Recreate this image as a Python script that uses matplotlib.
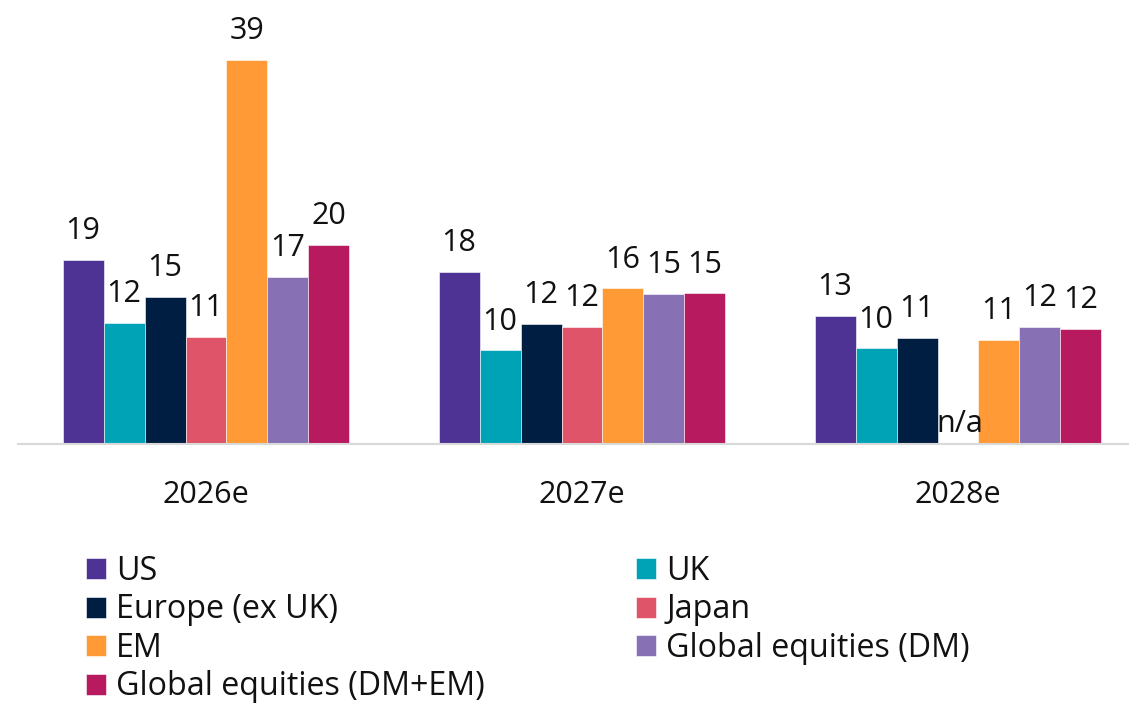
import matplotlib
matplotlib.use("Agg")
import matplotlib.pyplot as plt
import numpy as np

plt.rcParams['font.family'] = ['Open Sans', 'DejaVu Sans']

years = ["2026e", "2027e", "2028e"]
series = ["US", "UK", "Europe (ex UK)", "Japan", "EM",
          "Global equities (DM)", "Global equities (DM+EM)"]
colors = ["#4F3394", "#00A3B5", "#001E42", "#E0546A", "#FF9A36",
          "#8870B5", "#B71A5F"]

us = [18.7, 17.5, 13.0]
uk = [12.3, 9.5, 9.7]
europe = [14.9, 12.2, 10.8]
japan = [10.9, 11.85, None]
em = [39.0, 15.8, 10.6]
dm = [17.0, 15.2, 11.85]
dm_em = [20.2, 15.3, 11.65]

us_lbl = ["19", "18", "13"]
uk_lbl = ["12", "10", "10"]
europe_lbl = ["15", "12", "11"]
japan_lbl = ["11", "12", "n/a"]
em_lbl = ["39", "16", "11"]
dm_lbl = ["17", "15", "12"]
dm_em_lbl = ["20", "15", "12"]

values = [us, uk, europe, japan, em, dm, dm_em]
labels = [us_lbl, uk_lbl, europe_lbl, japan_lbl, em_lbl, dm_lbl, dm_em_lbl]

W, H = 1129, 707
fig = plt.figure(figsize=(W / 100, H / 100), dpi=100)
ax = fig.add_axes([18 / W, (H - 444) / H, 1111 / W, 423.4 / H])

x = np.arange(len(years))
bw = 0.109
fs = 22
lfs = 23.2
handles = []
for j, (vals, lbls, c) in enumerate(zip(values, labels, colors)):
    pos = x + (j - 3) * bw
    hv = [v if v is not None else 0 for v in vals]
    b = ax.bar(pos, hv, width=bw, color=c, edgecolor="white", linewidth=0.4,
               label=series[j], zorder=2)
    handles.append(b)
    for p, v, l in zip(pos, vals, lbls):
        if v is None:
            ax.annotate(l, (p, 0), xytext=(1.5, 8.6), textcoords="offset points",
                        ha="center", va="baseline", fontsize=fs, color="#111111")
        else:
            ax.annotate(l, (p, v), xytext=(0, 15), textcoords="offset points",
                        ha="center", va="baseline", fontsize=fs, color="#111111")

ax.set_xlim(-0.5, -0.5 + 1111 / 376)
ax.set_ylim(0, 43)
ax.set_xticks(x)
ax.set_xticklabels(years, fontsize=fs, color="#111111")
ax.tick_params(axis="x", length=0, pad=26)
ax.set_yticks([])
for s in ["top", "left", "right"]:
    ax.spines[s].set_visible(False)
ax.spines["bottom"].set_color("#d9d9d9")
ax.spines["bottom"].set_linewidth(1.5)
ax.spines["bottom"].set_zorder(3)

order = [0, 2, 4, 6, 1, 3, 5]
leg = fig.legend([handles[i] for i in order], [series[i] for i in order],
                 ncol=2, loc="upper left", bbox_to_anchor=(86 / W, 1 - 555 / H),
                 frameon=False, fontsize=lfs, handlelength=0.62, handleheight=0.62,
                 handletextpad=0.31, labelspacing=0.17, columnspacing=4.7,
                 borderpad=0, borderaxespad=0)
for t in leg.get_texts():
    t.set_color("#111111")

fig.savefig("out.png", dpi=100)
